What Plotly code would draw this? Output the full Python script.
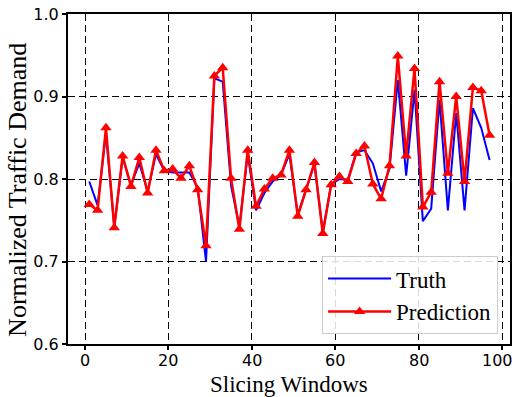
import plotly.graph_objects as go

windows = list(range(1, 98, 2))
truth = [0.797, 0.768, 0.855, 0.742, 0.826, 0.793, 0.819, 0.785, 0.830, 0.810,
         0.808, 0.808, 0.808, 0.790, 0.700, 0.922, 0.918, 0.792, 0.742, 0.830,
         0.762, 0.783, 0.797, 0.805, 0.830, 0.757, 0.787, 0.818, 0.736, 0.793,
         0.800, 0.799, 0.832, 0.835, 0.819, 0.785, 0.812, 0.920, 0.804, 0.908,
         0.749, 0.764, 0.896, 0.762, 0.880, 0.762, 0.886, 0.862, 0.823]
prediction = [0.769, 0.762, 0.862, 0.741, 0.828, 0.791, 0.826, 0.783, 0.835, 0.810,
              0.812, 0.801, 0.816, 0.787, 0.719, 0.925, 0.935, 0.801, 0.739, 0.835,
              0.767, 0.788, 0.801, 0.805, 0.835, 0.755, 0.787, 0.820, 0.734, 0.793,
              0.803, 0.797, 0.831, 0.840, 0.794, 0.776, 0.816, 0.949, 0.828, 0.934,
              0.766, 0.784, 0.918, 0.807, 0.900, 0.797, 0.911, 0.907, 0.853]
x_ticks = [0, 20, 40, 60, 80, 100]
x_tick_labels = ["0", "20", "40", "60", "80", "100"]
y_ticks = [0.6, 0.7, 0.8, 0.9, 1.0]

serif = "Liberation Serif, Times New Roman, serif"
sans = "DejaVu Sans, sans-serif"

fig = go.Figure()
fig.add_trace(go.Scatter(x=windows, y=truth, mode="lines", name="Truth",
                         line=dict(color="blue", width=2)))
fig.add_trace(go.Scatter(x=windows, y=prediction, mode="lines+markers", name="Prediction",
                         line=dict(color="red", width=2.5),
                         marker=dict(symbol="triangle-up", size=10, color="red")))

axis_common = dict(showline=True, linecolor="black", linewidth=2, mirror=True,
                   showgrid=True, gridcolor="black", gridwidth=1.4, griddash="7px,4px",
                   zeroline=False, ticks="outside", ticklen=4, tickwidth=1.5,
                   tickcolor="black", automargin=False,
                   tickfont=dict(family=sans, size=16, color="black"))

fig.update_xaxes(range=[-4.1, 101.9], tickvals=x_ticks, showticklabels=False, **axis_common)
fig.update_yaxes(range=[0.6, 1.0], tickvals=y_ticks, tickformat=".1f", **axis_common)

# x tick labels placed on the x axis scale
for i, (t, lab) in enumerate(zip(x_ticks, x_tick_labels)):
    last = i == len(x_ticks) - 1
    fig.add_annotation(text=lab, xref="x", yref="paper", x=t, y=0, yshift=-5,
                       xanchor="right" if last else "center",
                       xshift=13 if last else 0,
                       yanchor="top", showarrow=False,
                       font=dict(family=sans, size=16, color="black"))

fig.add_annotation(text="Slicing Windows", xref="paper", yref="paper",
                   x=0.5, y=0, yshift=-40, xanchor="center", yanchor="middle",
                   showarrow=False, font=dict(family=serif, size=23, color="black"))
fig.add_annotation(text="Normalized Traffic Demand", xref="paper", yref="paper",
                   x=0, y=0.467, xshift=-50, xanchor="center", yanchor="middle", textangle=-90,
                   showarrow=False, font=dict(family=serif, size=26, color="black"))

fig.update_layout(width=516, height=397, margin=dict(l=68, r=6, t=14, b=53, autoexpand=False),
                  plot_bgcolor="white", paper_bgcolor="white",
                  legend=dict(x=0.973, y=0.03, xanchor="right", yanchor="bottom",
                              bgcolor="rgba(255,255,255,0.85)", bordercolor="#cccccc", borderwidth=1,
                              font=dict(family=serif, size=23, color="black"),
                              tracegroupgap=0, itemwidth=63))

fig.write_html("out.html", config={"displayModeBar": False},
               post_script="document.body.style.margin='0px';document.body.style.overflow='hidden';")
